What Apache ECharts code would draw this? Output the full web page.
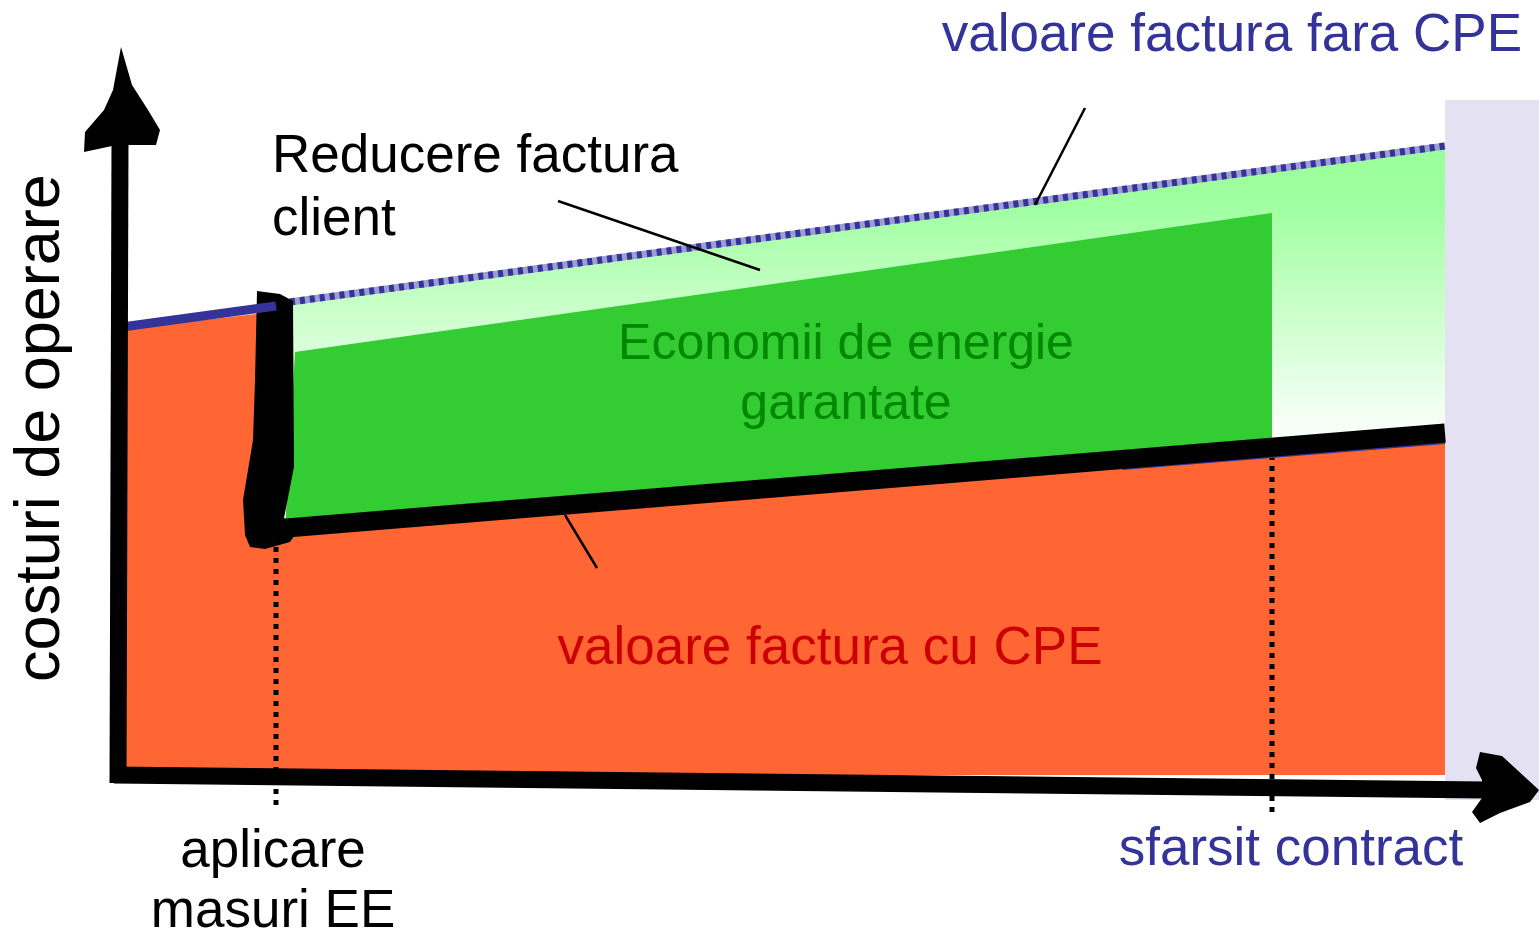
<!DOCTYPE html>
<html>
<head>
<meta charset="utf-8">
<script src="https://cdn.jsdelivr.net/npm/echarts@6/dist/echarts.min.js"></script>
<style>
  html, body { margin: 0; padding: 0; background: #ffffff; }
  #chart { width: 1539px; height: 935px; }
</style>
</head>
<body>
<div id="chart"></div>
<script>
// values are in "diagram units": x = time, y = operating cost

// cost line before the measures (fara CPE, solid)
let billBefore = [[0, 448], [154, 469]];
// cost line without contract after the measures (dotted)
let billWithout = [[168, 473], [1323, 629]];
// cost line with contract (thick black) and its thin blue edge
let billWith = [[140, 245], [1323, 342]];
let billWithEdge = [[1000, 306], [1323, 332]];

// filled regions
let orangeArea = [[-4, 445], [143, 462], [143, 246], [1323, 342], [1323, 0], [-4, 0]];
let reductionArea = [[154, 475], [1323, 630], [1323, 335], [154, 235]];
let savingsArea = [[173, 423], [1150, 562], [1150, 330], [163, 245]];
let contractZone = [[1323, 675], [1417, 675], [1417, -25], [1323, -25]];

// the drop when measures are applied
let stepShape = [[135, 484], [158, 481], [171, 474], [172, 308], [162, 257], [178, 247],
  [168, 233], [143, 226], [128, 228], [123, 240], [121, 275], [131, 335], [133, 395]];

// axes
let yAxisLine = [[-4, -8], [-2, 635]];
let xAxisLine = [[-8, 0], [1363, -15]];
let yArrow = [[-1, 728], [10, 690], [26, 665], [38, 645], [34, 630], [6, 630], [-10, 629],
  [-38, 623], [-37, 643], [-18, 665], [-9, 685]];
let xArrow = [[1358, 23], [1380, 19], [1417, -15], [1408, -27], [1378, -38], [1358, -48],
  [1350, -37], [1360, -23], [1360, -5], [1354, 7]];

// time markers
let measureMark = [[154, -30], [154, 235]];
let endMark = [[1150, -37], [1150, 335]];

// callout lines
let pointerWithout = [[963, 667], [913, 570]];
let pointerReduction = [[436, 574], [638, 505]];
let pointerWith = [[443, 260], [475, 207]];

let FONT = '"Liberation Sans", Arial, sans-serif';

function polygonSeries(points, fill, z) {
  return {
    type: "custom",
    z: z,
    silent: true,
    data: points,
    renderItem: function (params, api) {
      if (params.dataIndex !== 0) return null;
      return {
        type: "polygon",
        shape: { points: points.map(function (p) { return api.coord(p); }) },
        style: { fill: fill, stroke: null }
      };
    }
  };
}

function lineSeries(points, color, width, type, z) {
  return {
    type: "line",
    z: z,
    silent: true,
    data: points,
    symbol: "none",
    lineStyle: { color: color, width: width, type: type || "solid", cap: "butt" }
  };
}

function label(text, x, y, size, color, align, rotation) {
  return {
    type: "text",
    x: x,
    y: y,
    rotation: rotation || 0,
    z: 100,
    style: {
      text: text,
      fontSize: size,
      fontFamily: FONT,
      fill: color,
      align: align || "center",
      verticalAlign: "middle"
    }
  };
}

let myChart = echarts.init(document.getElementById("chart"));
let option = {
  animation: false,
  backgroundColor: "#ffffff",
  grid: { left: 0, right: 0, top: 0, bottom: 0 },
  xAxis: { type: "value", min: -122, max: 1417, show: false },
  yAxis: { type: "value", min: -160, max: 775, show: false },
  series: [
    polygonSeries(contractZone, "#e4e1f3", 1),
    polygonSeries(reductionArea, new echarts.graphic.LinearGradient(0, 0, 0, 1, [
      { offset: 0, color: "#99ff99" },
      { offset: 0.15, color: "#a0ffa0" },
      { offset: 0.7, color: "#f6fff6" },
      { offset: 1, color: "#ffffff" }
    ]), 2),
    polygonSeries(orangeArea, "#ff6633", 2),
    polygonSeries(savingsArea, "#33cc33", 3),
    lineSeries(measureMark, "#000000", 5, [5, 6], 4),
    lineSeries(endMark, "#000000", 5, [5, 6], 4),
    lineSeries(billWithout, "#9d9dd2", 7, "solid", 5),
    lineSeries(billWithout, "#333399", 7, [5, 5], 6),
    lineSeries(billWithEdge, "#333399", 2, "solid", 6),
    lineSeries(billWith, "#000000", 19, "solid", 7),
    polygonSeries(stepShape, "#000000", 7),
    lineSeries(billBefore, "#333399", 9, "solid", 8),
    lineSeries(yAxisLine, "#000000", 17, "solid", 8),
    lineSeries(xAxisLine, "#000000", 17, "solid", 8),
    polygonSeries(yArrow, "#000000", 8),
    polygonSeries(xArrow, "#000000", 8),
    lineSeries(pointerWithout, "#000000", 2.5, "solid", 9),
    lineSeries(pointerReduction, "#000000", 2.5, "solid", 9),
    lineSeries(pointerWith, "#000000", 2.5, "solid", 9)
  ],
  graphic: [
    label("valoare factura fara CPE", 1522, 36, 53, "#333399", "right"),
    label("Reducere factura", 272, 157, 53, "#000000", "left"),
    label("client", 272, 220, 53, "#000000", "left"),
    label("Economii de energie", 846, 345, 50, "#008800"),
    label("garantate", 846, 405, 50, "#008800"),
    label("valoare factura cu CPE", 830, 649, 53, "#cc0000"),
    label("aplicare", 273, 852, 53, "#000000"),
    label("masuri EE", 273, 912, 53, "#000000"),
    label("sfarsit contract", 1291, 850, 53, "#333399"),
    label("costuri de operare", 42, 428, 63, "#000000", "center", Math.PI / 2)
  ]
};
myChart.setOption(option);
</script>
</body>
</html>
